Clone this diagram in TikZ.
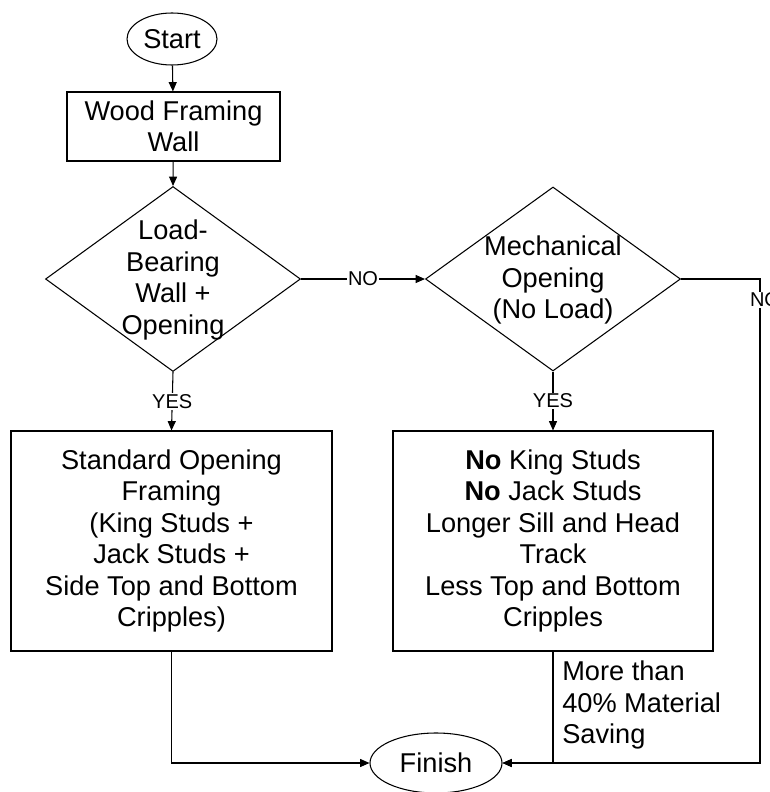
\documentclass[tikz,border=0pt]{standalone}
\usepackage{fontspec}
\setmainfont{Liberation Sans}
\usetikzlibrary{arrows.meta,shapes.geometric}

% one picture unit is 0.75pt; sizes below are given in pt
\tikzset{
  every picture/.style={x=0.75pt,y=-0.75pt},
  line/.style={draw=black,line width=0.8pt},
  arr/.style={line,-{Triangle[length=7pt,width=6pt]}},
  body/.style={font=\fontsize{20.4}{23.6}\selectfont,align=center,inner sep=0pt},
  boxnode/.style={line,rectangle,body},
  endnode/.style={line,ellipse,inner sep=0pt,font=\fontsize{20.4}{23.6}\selectfont},
  decision/.style={line,diamond,inner sep=0pt,aspect=1},
  lbl/.style={fill=white,inner sep=1pt,font=\fontsize{15}{17}\selectfont}
}

\begin{document}
\begin{tikzpicture}
  \useasboundingbox (0,0) rectangle (769,792);

  % terminals
  \node[endnode,minimum width=67.5pt,minimum height=39pt] (start) at (172,39) {Start};
  \node[endnode,minimum width=99pt,minimum height=45pt] (fin) at (436,763) {Finish};

  % process boxes
  \node[boxnode,minimum width=159.75pt,minimum height=51.75pt] (wood) at (173.5,126.5)
    {Wood Framing\\Wall};
  \node[boxnode,minimum width=240.75pt,minimum height=165pt] (lbox) at (171.5,541)
    {Standard Opening\\Framing\\(King Studs +\\Jack Studs +\\Side Top and Bottom\\Cripples)};
  \node[boxnode,minimum width=240pt,minimum height=165pt] (rbox) at (553,541)
    {\textbf{No} King Studs\\\textbf{No} Jack Studs\\Longer Sill and Head\\Track\\Less Top and Bottom\\Cripples};

  % decisions (shape and text as separate nodes)
  \node[decision,minimum width=191.25pt,minimum height=138.75pt] (d1) at (173,279) {};
  \node[body] (d1t) at (173,280) {Load-\\Bearing\\Wall +\\Opening};
  \node[decision,minimum width=191.25pt,minimum height=138pt] (d2) at (553,279) {};
  \node[body] (d2t) at (553,280) {Mechanical\\Opening\\(No Load)};

  % note beside the saving branch
  \node[body,align=left,anchor=west] (note) at (562,705)
    {More than\\40\% Material\\Saving};

  % connectors
  \draw[arr] (start) -- (wood);
  \draw[arr] (wood) -- (d1.north);
  \draw[arr] (d1.east) -- node[lbl] (no1) {NO} (d2.west);
  \draw[arr] (d1.south) -- node[lbl] (yes1) {YES} (lbox.north);
  \draw[arr] (d2.south) -- node[lbl] (yes2) {YES} (rbox.north);
  \coordinate (rc) at (760,279);
  \draw[arr] (d2.east) -- (rc) |- (fin.east);
  \node[lbl] (no2) at (765,300) {NO};
  \draw[arr] (lbox.south) |- (fin.west);
  \draw[arr] (rbox.south) |- (fin.east);
\end{tikzpicture}
\end{document}
